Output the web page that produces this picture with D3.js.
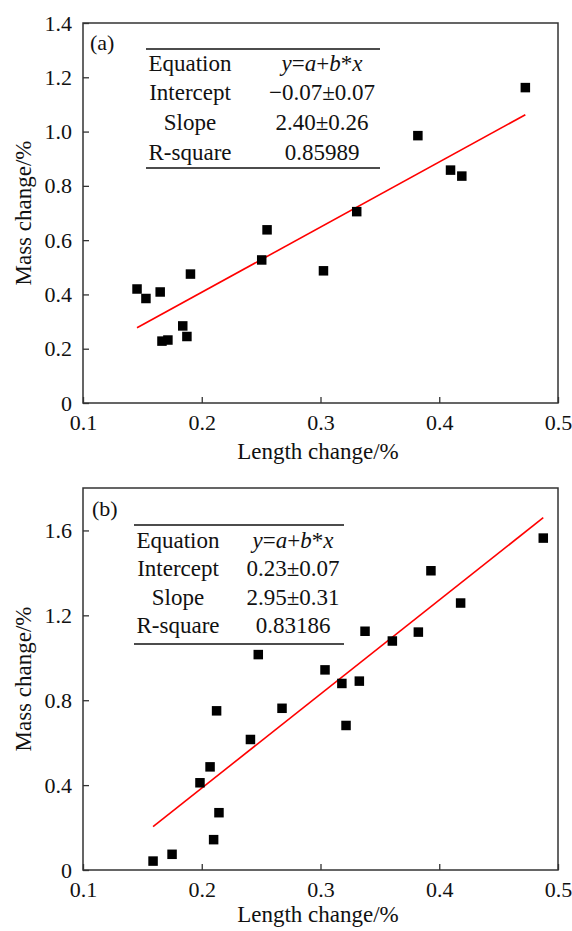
<!DOCTYPE html>
<html>
<head>
<meta charset="utf-8">
<script src="https://cdn.jsdelivr.net/npm/d3@7"></script>
</head>
<body style="margin:0">
<svg id="chart" width="572" height="931"></svg>
<script>
// panel (a) data
const lengthA = [0.1455, 0.153, 0.165, 0.1665, 0.1715, 0.184, 0.1875, 0.1905, 0.2505, 0.255, 0.3025, 0.3305, 0.382, 0.4095, 0.419, 0.4725];
const massA   = [0.420, 0.385, 0.409, 0.228, 0.232, 0.284, 0.245, 0.475, 0.527, 0.638, 0.487, 0.705, 0.985, 0.858, 0.836, 1.162];
const fitA = [-0.072, 2.40];   // intercept, slope of drawn line
const valuesA = ["y=a+b*x", "\u22120.07\u00b10.07", "2.40\u00b10.26", "0.85989"];

// panel (b) data
const lengthB = [0.159, 0.175, 0.1985, 0.207, 0.210, 0.2125, 0.2145, 0.241, 0.2476, 0.2676, 0.3038, 0.318, 0.3215, 0.3327, 0.3375, 0.3605, 0.3824, 0.393, 0.418, 0.4876];
const massB   = [0.042, 0.074, 0.411, 0.486, 0.143, 0.750, 0.270, 0.615, 1.015, 0.762, 0.943, 0.879, 0.681, 0.890, 1.125, 1.079, 1.121, 1.410, 1.258, 1.564];
const fitB = [-0.50, 4.43];
const valuesB = ["y=a+b*x", "0.23\u00b10.07", "2.95\u00b10.31", "0.83186"];

const rowLabels = ["Equation", "Intercept", "Slope", "R-square"];
const xTicks = [0.1, 0.2, 0.3, 0.4, 0.5];
const yTicksA = [0, 0.2, 0.4, 0.6, 0.8, 1.0, 1.2, 1.4];
const yTicksB = [0, 0.4, 0.8, 1.2, 1.6];

const FONT = "'Liberation Serif', 'Times New Roman', serif";
const svg = d3.select("#chart");
const left = 83, right = 558;

// set the font inline so nothing else can override it
function label(sel, size) {
  return sel.attr("font-family", FONT).attr("font-size", size).attr("fill", "#111")
      .style("font-family", FONT, "important").style("font-size", size + "px");
}

function drawPanel(opt) {
  const x = d3.scaleLinear().domain([0.1, 0.5]).range([left, right]);
  const y = d3.scaleLinear().domain(opt.yDomain).range([opt.bottom, opt.top]);
  const g = svg.append("g");

  const fmt = d => d === 0 ? "0" : d3.format(".1f")(d);

  g.append("g")
      .attr("transform", "translate(" + left + ",0)")
      .call(d3.axisLeft(y).tickValues(opt.yTicks).tickFormat(fmt).tickSizeInner(-6).tickSizeOuter(0).tickPadding(11))
      .call(a => a.select(".domain").remove())
      .call(a => a.selectAll("line").attr("stroke", "#333").attr("stroke-width", 1.3))
      .call(a => label(a.selectAll("text"), 22));

  g.append("g")
      .attr("transform", "translate(0," + opt.bottom + ")")
      .call(d3.axisBottom(x).tickValues(xTicks).tickFormat(fmt).tickSizeInner(-6).tickSizeOuter(0).tickPadding(11))
      .call(a => a.select(".domain").remove())
      .call(a => a.selectAll("line").attr("stroke", "#333").attr("stroke-width", 1.3))
      .call(a => label(a.selectAll("text"), 22));

  // frame
  g.append("rect")
      .attr("x", left).attr("y", opt.top)
      .attr("width", right - left).attr("height", opt.bottom - opt.top)
      .attr("fill", "none").attr("stroke", "#333").attr("stroke-width", 1.5);

  // fitted line over data extent
  const ext = d3.extent(opt.xs);
  g.append("line")
      .attr("x1", x(ext[0])).attr("y1", y(opt.fit[0] + opt.fit[1] * ext[0]))
      .attr("x2", x(ext[1])).attr("y2", y(opt.fit[0] + opt.fit[1] * ext[1]))
      .attr("stroke", "#f00").attr("stroke-width", 1.6);

  // points
  const s = 9.5;
  g.selectAll("rect.pt").data(opt.xs.map((v, i) => [v, opt.ys[i]]))
    .enter().append("rect")
      .attr("class", "pt")
      .attr("x", d => x(d[0]) - s / 2)
      .attr("y", d => y(d[1]) - s / 2)
      .attr("width", s).attr("height", s)
      .attr("fill", "#000");

  // panel label
  label(g.append("text"), 22).attr("x", opt.labelX).attr("y", opt.labelY).text(opt.label);

  // titles
  label(g.append("text"), 23)
      .attr("x", 318).attr("y", opt.xTitleY)
      .attr("text-anchor", "middle")
      .text("Length change/%");
  label(g.append("text"), 23)
      .attr("transform", "translate(23," + ((opt.top + opt.bottom) / 2) + ") rotate(-90)")
      .attr("dy", "0.35em")
      .attr("text-anchor", "middle")
      .text("Mass change/%");

  // results table
  const t = opt.table;
  [t.y0, t.y1].forEach(yy => {
    g.append("line").attr("x1", t.x0).attr("x2", t.x1).attr("y1", yy).attr("y2", yy)
        .attr("stroke", "#111").attr("stroke-width", 1.6);
  });
  rowLabels.forEach((lab, i) => {
    const yy = t.rows[i];
    label(g.append("text"), 23).attr("x", t.c0).attr("y", yy).attr("dy", "0.35em")
        .attr("text-anchor", "middle").text(lab);
    const v = label(g.append("text"), 23).attr("x", t.c1).attr("y", yy).attr("dy", "0.35em")
        .attr("text-anchor", "middle");
    if (i === 0) {
      const parts = [["y", true], ["=", false], ["a", true], ["+", false], ["b", true], ["*", false], ["x", true]];
      parts.forEach(p => v.append("tspan").style("font-style", p[1] ? "italic" : "normal").text(p[0]));
    } else {
      v.text(opt.values[i]);
    }
  });
}

drawPanel({
  top: 23, bottom: 403, yDomain: [0, 1.4], yTicks: yTicksA,
  xs: lengthA, ys: massA, fit: fitA, values: valuesA,
  label: "(a)", labelX: 90, labelY: 50, xTitleY: 459,
  table: { x0: 146, x1: 380, y0: 49, y1: 168, c0: 190, c1: 322, rows: [63, 92, 122, 152] }
});

drawPanel({
  top: 488, bottom: 870, yDomain: [0, 1.8], yTicks: yTicksB,
  xs: lengthB, ys: massB, fit: fitB, values: valuesB,
  label: "(b)", labelX: 92, labelY: 516, xTitleY: 922,
  table: { x0: 134, x1: 344, y0: 525, y1: 644, c0: 178, c1: 293, rows: [540, 568, 597, 625] }
});
</script>
</body>
</html>
